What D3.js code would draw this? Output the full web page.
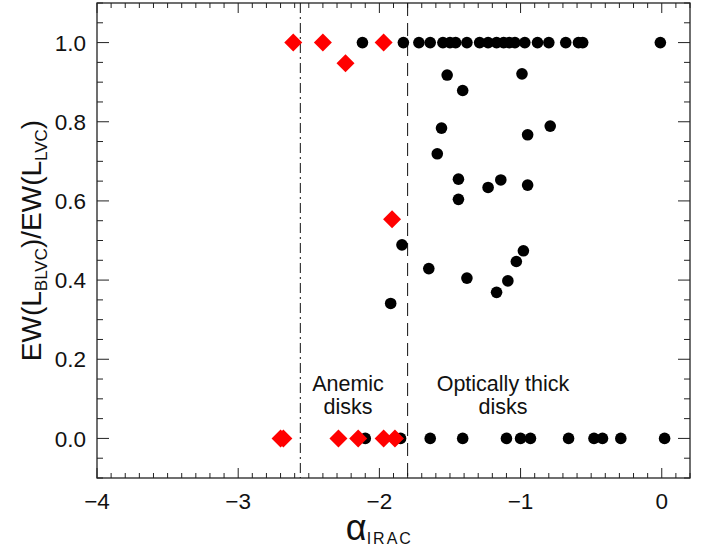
<!DOCTYPE html>
<html>
<head>
<meta charset="utf-8">
<script src="https://d3js.org/d3.v7.min.js"></script>
<style>
  body { margin: 0; background: #fff; }
  svg text { font-family: "Liberation Sans", Arial, Helvetica, sans-serif; }
</style>
</head>
<body>
<div id="chart"></div>
<script>
// Optically thick disks (black circles)
const thickAlpha = [
  -2.12, -1.83, -1.72, -1.64, -1.55, -1.50, -1.46, -1.38, -1.29, -1.23, -1.17,
  -1.12, -1.08, -1.04, -0.97, -0.88, -0.80, -0.68, -0.59, -0.56, -0.01,
  -1.52, -1.41, -0.99, -1.56, -0.95, -0.79, -1.59, -1.44, -1.14, -1.23, -0.95,
  -1.44, -1.84, -0.98, -1.03, -1.65, -1.09, -1.38, -1.17, -1.92,
  -2.10, -1.85, -1.64, -1.41, -1.10, -1.00, -0.93, -0.66, -0.48, -0.42, -0.29, 0.02
];
const thickRatio = [
  1, 1, 1, 1, 1, 1, 1, 1, 1, 1, 1,
  1, 1, 1, 1, 1, 1, 1, 1, 1, 1,
  0.918, 0.879, 0.921, 0.784, 0.767, 0.789, 0.719, 0.655, 0.653, 0.634, 0.640,
  0.604, 0.489, 0.474, 0.447, 0.429, 0.398, 0.405, 0.369, 0.341,
  0, 0, 0, 0, 0, 0, 0, 0, 0, 0, 0, 0
];
// Anemic disks (red diamonds)
const anemicAlpha = [-2.61, -2.40, -1.97, -2.24, -1.91, -2.70, -2.68, -2.29, -2.15, -1.97, -1.89];
const anemicRatio = [1, 1, 1, 0.948, 0.554, 0, 0, 0, 0, 0, 0];

// boundaries between classes
const boundaries = [-2.56, -1.8];
const xTicks = [-4, -3, -2, -1, 0];
const yTicks = [0, 0.2, 0.4, 0.6, 0.8, 1.0];

const width = 708, height = 552;
const margin = { left: 97, right: 18, top: 3, bottom: 74 };

const svg = d3.select('#chart').append('svg')
  .attr('width', width).attr('height', height);

const x = d3.scaleLinear().domain([-4, 0.2]).range([margin.left, width - margin.right]);
const y = d3.scaleLinear().domain([-0.1, 1.1]).range([height - margin.bottom, margin.top]);

const axisColor = '#222';

// Frame
svg.append('rect')
  .attr('x', x(-4)).attr('y', y(1.1))
  .attr('width', x(0.2) - x(-4)).attr('height', y(-0.1) - y(1.1))
  .attr('fill', 'none').attr('stroke', axisColor).attr('stroke-width', 1.3);

// Ticks on all four sides, pointing inward
const xMinor = d3.range(-40, 3).map(i => i / 10);
const yMinor = d3.range(-2, 23).map(i => i / 20);
const isMajor = (v, step) => Math.abs(v / step - Math.round(v / step)) < 1e-6;

const tickG = svg.append('g').attr('stroke', axisColor).attr('stroke-width', 1);
xMinor.forEach(v => {
  const len = isMajor(v, 1) ? 10 : 5;
  tickG.append('line').attr('x1', x(v)).attr('x2', x(v)).attr('y1', y(-0.1)).attr('y2', y(-0.1) - len);
  tickG.append('line').attr('x1', x(v)).attr('x2', x(v)).attr('y1', y(1.1)).attr('y2', y(1.1) + len);
});
yMinor.forEach(v => {
  const len = isMajor(v, 0.2) ? 12 : 6;
  tickG.append('line').attr('y1', y(v)).attr('y2', y(v)).attr('x1', x(-4)).attr('x2', x(-4) + len);
  tickG.append('line').attr('y1', y(v)).attr('y2', y(v)).attr('x1', x(0.2)).attr('x2', x(0.2) - len);
});

// Tick labels
svg.append('g').selectAll('text').data(xTicks).enter().append('text')
  .attr('x', d => x(d)).attr('y', y(-0.1) + 31)
  .attr('text-anchor', 'middle').attr('font-size', '22.5px').attr('fill', '#111')
  .text(d => d < 0 ? '\u2212' + Math.abs(d) : d);

svg.append('g').selectAll('text').data(yTicks).enter().append('text')
  .attr('x', x(-4) - 11).attr('y', d => y(d)).attr('dy', '0.36em')
  .attr('text-anchor', 'end').attr('font-size', '22.5px').attr('fill', '#111')
  .text(d => d.toFixed(1));

// Class boundaries
svg.append('line')
  .attr('x1', x(boundaries[0])).attr('x2', x(boundaries[0]))
  .attr('y1', y(1.1)).attr('y2', y(-0.1))
  .attr('stroke', '#111').attr('stroke-width', 1)
  .attr('stroke-dasharray', '10,4,2,4');
svg.append('line')
  .attr('x1', x(boundaries[1])).attr('x2', x(boundaries[1]))
  .attr('y1', y(1.1)).attr('y2', y(-0.1))
  .attr('stroke', '#111').attr('stroke-width', 1)
  .attr('stroke-dasharray', '13,7');

// Annotations
const note = (cx, lines) => {
  const t = svg.append('text').attr('text-anchor', 'middle').attr('font-size', '21.5px').attr('fill', '#111');
  lines.forEach((s, i) => t.append('tspan').attr('x', cx).attr('y', 391 + i * 23).text(s));
};
note(348, ['Anemic', 'disks']);
note(503, ['Optically thick', 'disks']);

// Black circles
svg.append('g').selectAll('circle').data(thickAlpha).enter().append('circle')
  .attr('cx', d => x(d)).attr('cy', (d, i) => y(thickRatio[i]))
  .attr('r', 5.8).attr('fill', '#000');

// Red diamonds
svg.append('g').selectAll('path').data(anemicAlpha).enter().append('path')
  .attr('d', 'M0,-9L9,0L0,9L-9,0Z')
  .attr('transform', (d, i) => `translate(${x(d)},${y(anemicRatio[i])})`)
  .attr('fill', '#ff0000');

// Axis titles
const xt = svg.append('text')
  .attr('x', x(-2)).attr('y', 540)
  .attr('text-anchor', 'middle').attr('fill', '#111');
xt.append('tspan').attr('font-size', '36px').text('\u03b1');
xt.append('tspan').attr('font-size', '16px').attr('dy', 4).attr('letter-spacing', '2px').text('IRAC');

const yt = svg.append('text')
  .attr('transform', `translate(41,${(y(-0.1) + y(1.1)) / 2}) rotate(-90)`)
  .attr('text-anchor', 'middle').attr('fill', '#111').attr('font-size', '28px');
yt.append('tspan').text('EW(L');
yt.append('tspan').attr('font-size', '17px').attr('dy', 6).text('BLVC');
yt.append('tspan').attr('dy', -6).text(')/EW(L');
yt.append('tspan').attr('font-size', '17px').attr('dy', 6).text('LVC');
yt.append('tspan').attr('dy', -6).text(')');
</script>
</body>
</html>
